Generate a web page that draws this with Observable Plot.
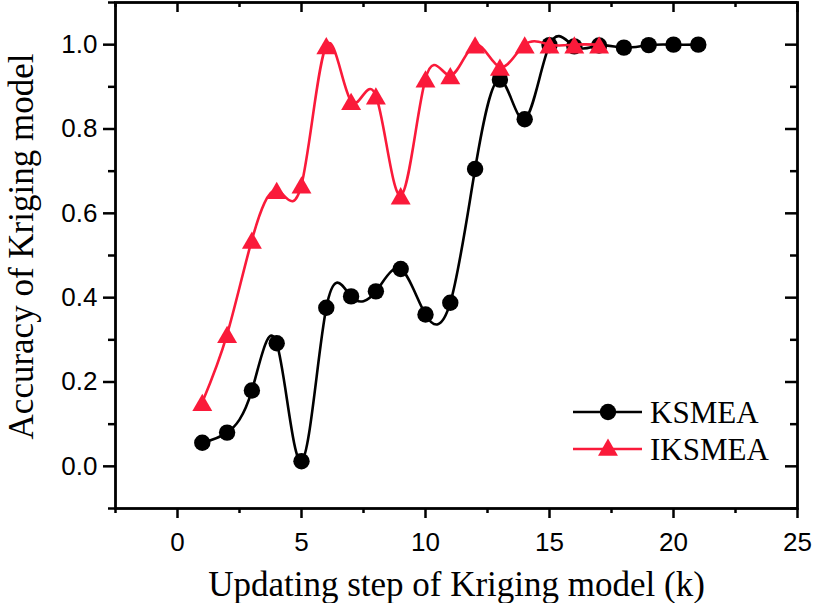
<!DOCTYPE html>
<html>
<head>
<meta charset="utf-8">
<script src="https://cdn.jsdelivr.net/npm/d3@7"></script>
<script src="https://cdn.jsdelivr.net/npm/@observablehq/plot@0.6"></script>
<style>
  body { margin: 0; background: #fff; }
  #wrap { position: relative; width: 815px; height: 603px; background: #fff; color: #000; }
  #legend { position: absolute; left: 573px; top: 395px; }
</style>
</head>
<body>
<div id="wrap"></div>
<script>
// ---- data ----
const stepsKSMEA = [1,2,3,4,5,6,7,8,9,10,11,12,13,14,15,16,17,18,19,20,21];
const accKSMEA   = [0.056,0.080,0.180,0.292,0.012,0.376,0.403,0.415,0.468,0.360,0.388,0.705,0.917,0.823,0.999,0.996,0.998,0.993,0.999,1.0,1.0];
const stepsIKSMEA = [1,2,3,4,5,6,7,8,9,10,11,12,13,14,15,16,17];
const accIKSMEA   = [0.152,0.313,0.537,0.655,0.668,0.998,0.866,0.879,0.642,0.919,0.927,1.0,0.947,1.0,1.0,1.0,1.0];
const seriesNames = ["KSMEA", "IKSMEA"];
const xMajor = [0,5,10,15,20,25];
const xMinor = [-2.5,2.5,7.5,12.5,17.5,22.5];
const yMajor = [0,0.2,0.4,0.6,0.8,1.0];
const yMinor = [-0.1,0.1,0.3,0.5,0.7,0.9,1.1];
const xTitle = "Updating step of Kriging model (k)";
const yTitle = "Accuracy of Kriging model";

// ---- styles ----
const RED = "#fa1a3a";
const SERIF = "'Liberation Serif', 'Times New Roman', serif";
const SANS = "'Liberation Sans', Arial, Helvetica, sans-serif";
const W = 815, H = 603, mt = 2, mr = 18, mb = 95, ml = 115;
const innerW = W - ml - mr, innerH = H - mt - mb;

const ks = stepsKSMEA.map((x, i) => ({x, y: accKSMEA[i]}));
const iks = stepsIKSMEA.map((x, i) => ({x, y: accIKSMEA[i]}));

const chart = Plot.plot({
  width: W, height: H,
  marginTop: mt, marginRight: mr, marginBottom: mb, marginLeft: ml,
  style: {fontFamily: SANS, background: "#fff", color: "#000", overflow: "visible"},
  x: {domain: [-2.5, 25]},
  y: {domain: [-0.1, 1.1]},
  marks: [
    // bottom axis (outward)
    Plot.axisX(xMajor, {anchor: "bottom", tickSize: 10, tickPadding: 14, strokeWidth: 2.5, fontSize: 26, fontFamily: SANS, tickFormat: d => String(d), label: null}),
    Plot.axisX(xMinor, {anchor: "bottom", tickSize: 5, strokeWidth: 2.5, tickFormat: () => "", label: null}),
    // left axis (outward)
    Plot.axisY(yMajor, {anchor: "left", tickSize: 12, tickPadding: 6, strokeWidth: 2.5, fontSize: 26, fontFamily: SANS, tickFormat: d3.format(".1f"), label: null}),
    Plot.axisY(yMinor, {anchor: "left", tickSize: 7, strokeWidth: 2.5, tickFormat: () => "", label: null}),
    // top ticks (inward)
    Plot.ruleX(xMajor, {x: d => d, insetBottom: innerH - 10, strokeWidth: 2.5}),
    Plot.ruleX(xMinor, {x: d => d, insetBottom: innerH - 5, strokeWidth: 2.5}),
    // right ticks (inward)
    Plot.ruleY(yMajor, {y: d => d, insetLeft: innerW - 12, strokeWidth: 2.5}),
    Plot.ruleY(yMinor, {y: d => d, insetLeft: innerW - 7, strokeWidth: 2.5}),
    Plot.frame({strokeWidth: 2.8}),
    // axis titles
    Plot.text([xTitle], {frameAnchor: "bottom", dy: 87, lineAnchor: "bottom", textAnchor: "middle", fontSize: 35, fontFamily: SERIF, text: d => d}),
    Plot.text([yTitle], {frameAnchor: "left", rotate: -90, dx: -83, dy: -9, lineAnchor: "bottom", textAnchor: "middle", fontSize: 35, fontFamily: SERIF, text: d => d}),
    // KSMEA
    Plot.line(ks, {x: "x", y: "y", curve: "natural", stroke: "#000", strokeWidth: 2.6}),
    Plot.dot(ks, {x: "x", y: "y", r: 8.2, fill: "#000", stroke: null}),
    // IKSMEA
    Plot.line(iks, {x: "x", y: "y", curve: "natural", stroke: RED, strokeWidth: 2.6}),
    Plot.dot(iks, {x: "x", y: "y", symbol: "triangle", r: 7.4, dy: 3, fill: RED, stroke: null})
  ]
});

const wrap = document.getElementById("wrap");
wrap.appendChild(chart);

// ---- legend (inside plot area) ----
const ns = "http://www.w3.org/2000/svg";
const leg = document.createElementNS(ns, "svg");
leg.setAttribute("id", "legend");
leg.setAttribute("width", 210);
leg.setAttribute("height", 80);
const colors = ["#000", RED];
seriesNames.forEach((name, i) => {
  const cy = 17 + i * 37;
  const ln = document.createElementNS(ns, "line");
  ln.setAttribute("x1", 0); ln.setAttribute("x2", 69);
  ln.setAttribute("y1", cy); ln.setAttribute("y2", cy);
  ln.setAttribute("stroke", colors[i]); ln.setAttribute("stroke-width", 2.6);
  leg.appendChild(ln);
  if (i === 0) {
    const c = document.createElementNS(ns, "circle");
    c.setAttribute("cx", 35); c.setAttribute("cy", cy); c.setAttribute("r", 8.2);
    c.setAttribute("fill", colors[i]);
    leg.appendChild(c);
  } else {
    const p = document.createElementNS(ns, "path");
    p.setAttribute("d", d3.symbol(d3.symbolTriangle, Math.PI * 7.4 * 7.4)());
    p.setAttribute("transform", `translate(35,${cy + 1})`);
    p.setAttribute("fill", colors[i]);
    leg.appendChild(p);
  }
  const t = document.createElementNS(ns, "text");
  t.setAttribute("x", 77); t.setAttribute("y", cy + 11);
  t.setAttribute("font-family", SERIF); t.setAttribute("font-size", 31);
  t.setAttribute("fill", "#000");
  t.textContent = name;
  leg.appendChild(t);
});
wrap.appendChild(leg);
</script>
</body>
</html>
